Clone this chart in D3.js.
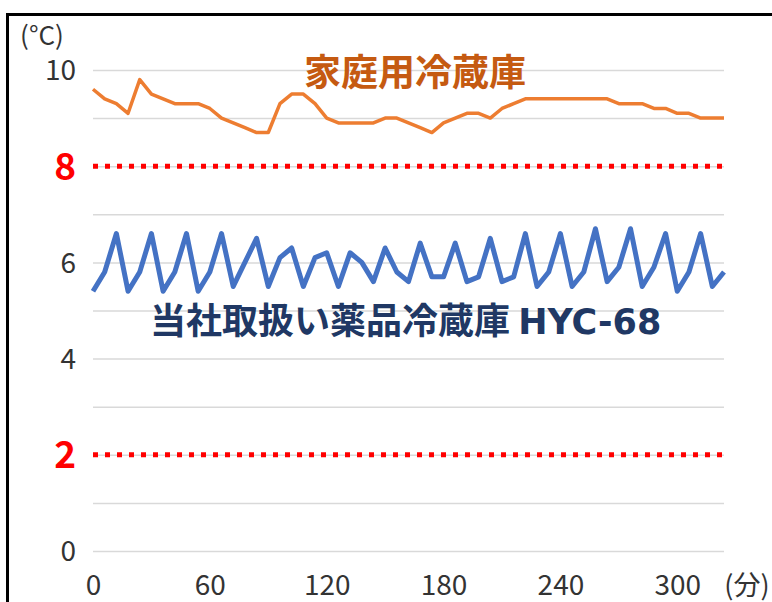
<!DOCTYPE html>
<html>
<head>
<meta charset="utf-8">
<script src="https://cdn.jsdelivr.net/npm/d3@7"></script>
<style>
  body { margin: 0; background: #fff; }
  svg { display: block; }
</style>
</head>
<body>
<svg id="chart" width="772" height="602"></svg>
<script>
// 測定時刻（分）
const minutes = [0, 6, 12, 18, 24, 30, 36, 42, 48, 54, 60, 66, 72, 78, 84, 90, 96, 102, 108, 114,
  120, 126, 132, 138, 144, 150, 156, 162, 168, 174, 180, 186, 192, 198, 204, 210, 216, 222, 228, 234,
  240, 246, 252, 258, 264, 270, 276, 282, 288, 294, 300, 306, 312, 318, 324];

// 家庭用冷蔵庫
const homeFridge = [9.6, 9.4, 9.3, 9.1, 9.8, 9.5, 9.4, 9.3, 9.3, 9.3,
  9.2, 9.0, 8.9, 8.8, 8.7, 8.7, 9.3, 9.5, 9.5, 9.3,
  9.0, 8.9, 8.9, 8.9, 8.9, 9.0, 9.0, 8.9, 8.8, 8.7,
  8.9, 9.0, 9.1, 9.1, 9.0, 9.2, 9.3, 9.4, 9.4, 9.4,
  9.4, 9.4, 9.4, 9.4, 9.4, 9.3, 9.3, 9.3, 9.2, 9.2,
  9.1, 9.1, 9.0, 9.0, 9.0];

// 当社取扱い薬品冷蔵庫 HYC-68
const hycFridge = [5.4, 5.8, 6.6, 5.4, 5.8, 6.6, 5.4, 5.8, 6.6, 5.4,
  5.8, 6.6, 5.5, 6.0, 6.5, 5.5, 6.1, 6.3, 5.5, 6.1,
  6.2, 5.5, 6.2, 6.0, 5.6, 6.3, 5.8, 5.6, 6.4, 5.7,
  5.7, 6.4, 5.6, 5.7, 6.5, 5.6, 5.7, 6.6, 5.5, 5.8,
  6.6, 5.5, 5.8, 6.7, 5.6, 5.9, 6.7, 5.5, 5.9, 6.6,
  5.4, 5.8, 6.6, 5.5, 5.8];

const xTickLabels = [0, 60, 120, 180, 240, 300];
const yTickLabels = [0, 2, 4, 6, 8, 10];
const yGridValues = [0, 1, 2, 3, 4, 5, 6, 7, 8, 9, 10];
const limitLines = [2, 8]; // 管理温度 2〜8℃

const font = "'Noto Sans CJK JP', 'Noto Sans', sans-serif";
const svg = d3.select("#chart");

// 外枠
svg.append("rect")
  .attr("x", 7.5).attr("y", 14.5).attr("width", 800).attr("height", 620)
  .attr("fill", "none").attr("stroke", "#000").attr("stroke-width", 3);

const x = d3.scaleLinear().domain([0, 324]).range([93, 724]);
const y = d3.scaleLinear().domain([0, 10]).range([551, 70]);

// グリッド線
svg.append("g")
  .attr("transform", "translate(93,0)")
  .call(d3.axisLeft(y).tickValues(yGridValues).tickSize(-631).tickFormat(""))
  .call(g => g.select(".domain").remove())
  .call(g => g.selectAll("line").attr("stroke", "#d9d9d9").attr("stroke-width", 1.5));

// 2℃ / 8℃ の赤点線
svg.selectAll(".limit")
  .data(limitLines)
  .join("line")
  .attr("class", "limit")
  .attr("x1", x(0)).attr("x2", x(324))
  .attr("y1", d => y(d)).attr("y2", d => y(d))
  .attr("stroke", "#ff0000")
  .attr("stroke-width", 5)
  .attr("stroke-dasharray", "5,7");

// Y軸ラベル
svg.append("g")
  .attr("transform", "translate(76,0)")
  .call(d3.axisLeft(y).tickValues(yTickLabels).tickSize(0).tickPadding(0))
  .call(g => g.select(".domain").remove())
  .call(g => g.selectAll("text")
    .attr("font-family", font)
    .attr("dy", "0.35em")
    .attr("font-size", d => limitLines.includes(d) ? 37 : 28)
    .attr("font-weight", d => limitLines.includes(d) ? 700 : 400)
    .attr("fill", d => limitLines.includes(d) ? "#ff0000" : "#333"));

// X軸ラベル
svg.append("g")
  .attr("transform", "translate(0,575)")
  .call(d3.axisBottom(x).tickValues(xTickLabels).tickSize(0).tickPadding(0))
  .call(g => g.select(".domain").remove())
  .call(g => g.selectAll("text")
    .attr("font-family", font)
    .attr("font-size", 28)
    .attr("dy", "0.71em")
    .attr("fill", "#333"));

// 単位
svg.append("text")
  .attr("x", 42).attr("y", 45)
  .attr("text-anchor", "middle")
  .attr("font-family", font).attr("font-size", 26).attr("fill", "#333")
  .text("(°C)");
svg.append("text")
  .attr("x", 747).attr("y", 595)
  .attr("text-anchor", "middle")
  .attr("font-family", font).attr("font-size", 27).attr("fill", "#333")
  .text("(分)");

// 折れ線
const line = d3.line().x((d, i) => x(minutes[i])).y(d => y(d));

svg.append("path")
  .datum(hycFridge)
  .attr("d", line)
  .attr("fill", "none")
  .attr("stroke", "#4472c4")
  .attr("stroke-width", 5)
  .attr("stroke-linejoin", "round");

svg.append("path")
  .datum(homeFridge)
  .attr("d", line)
  .attr("fill", "none")
  .attr("stroke", "#ed7d31")
  .attr("stroke-width", 3.5)
  .attr("stroke-linejoin", "round");

// 系列名
svg.append("text")
  .attr("x", 415).attr("y", 86)
  .attr("text-anchor", "middle")
  .attr("font-family", font).attr("font-size", 37).attr("font-weight", 700)
  .attr("fill", "#c55a11")
  .text("家庭用冷蔵庫");

const hycLabel = svg.append("text")
  .attr("x", 150).attr("y", 334)
  .attr("font-family", font).attr("font-size", 36).attr("font-weight", 700)
  .attr("fill", "#203864");
hycLabel.append("tspan").text("当社取扱い薬品冷蔵庫 ");
hycLabel.append("tspan")
  .attr("font-family", "'DejaVu Sans', sans-serif")
  .attr("font-size", 35)
  .text("HYC-68");
</script>
</body>
</html>
